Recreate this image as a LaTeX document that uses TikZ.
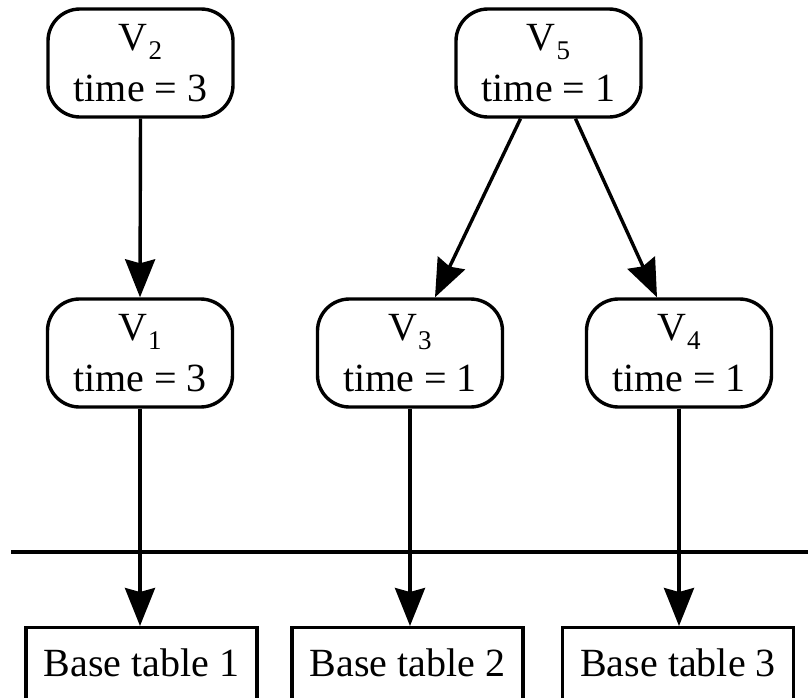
\documentclass[tikz,border=0pt]{standalone}
\usepackage{fontspec}
\setmainfont{Liberation Serif}
\usetikzlibrary{arrows.meta}

% view name with a lowered subscript
\newcommand{\vname}[1]{V\kern1pt\raisebox{-9pt}{\fontsize{27}{27}\selectfont #1}}

\begin{document}
\begin{tikzpicture}[x=1pt,y=-1pt,
  viewbox/.style={draw, line width=3.4pt, rounded corners=32pt, inner sep=0pt,
    minimum width=185pt, minimum height=108pt, align=center,
    font=\fontsize{40}{51}\selectfont},
  basebox/.style={draw, line width=3.4pt, inner sep=0pt, minimum width=231pt,
    text height=49pt, text depth=51pt, font=\fontsize{40}{48}\selectfont},
  link/.style={line width=3.4pt, -{Stealth[length=38pt,width=30pt,inset=4pt]}},
  rule/.style={line width=3.8pt}]
\useasboundingbox (0,0) rectangle (808,697);
\clip (0,0) rectangle (808,697);

% materialized views
\node[viewbox] (v2) at (140.5,63)  {\vname{2}\\time = 3};
\node[viewbox] (v5) at (548.5,63)  {\vname{5}\\time = 1};
\node[viewbox] (v1) at (140,353)   {\vname{1}\\time = 3};
\node[viewbox] (v3) at (410,353)   {\vname{3}\\time = 1};
\node[viewbox] (v4) at (679,353)   {\vname{4}\\time = 1};

% base tables (running off the bottom edge)
\node[basebox, anchor=north] (b1) at (141.5,626) {Base table 1};
\node[basebox, anchor=north] (b2) at (407.5,626) {Base table 2};
\node[basebox, anchor=north] (b3) at (678,626)   {Base table 3};

% separator between views and base tables
\coordinate (ruleL) at (11,552);
\coordinate (ruleR) at (820,552);
\draw[rule] (ruleL) -- (ruleR);

% dependencies
\draw[link] (v2.south) -- (v1.north);
\draw[link] ([xshift=-28pt]v5.south) -- ([xshift=25pt]v3.north);
\draw[link] ([xshift=27pt]v5.south) -- ([xshift=-22pt]v4.north);
\draw[link] (v1.south) -- (v1.south |- b1.north);
\draw[link] (v3.south) -- (v3.south |- b2.north);
\draw[link] (v4.south) -- (v4.south |- b3.north);
\end{tikzpicture}
\end{document}
